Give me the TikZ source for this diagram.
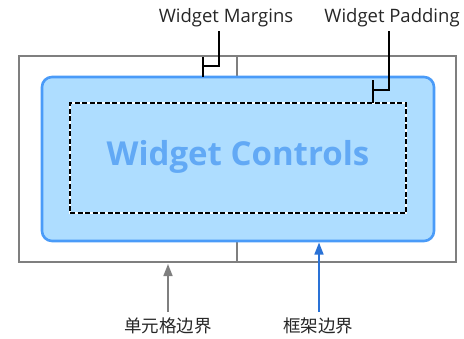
\documentclass[tikz,border=0pt]{standalone}
\usepackage{fontspec}
\setmainfont{Open Sans}
\newfontfamily\cjk{Noto Sans CJK SC}
\usetikzlibrary{arrows.meta}
\definecolor{cellgray}{HTML}{7F7F7F}
\definecolor{frameblue}{HTML}{4A9BF8}
\definecolor{framefill}{HTML}{AEDDFF}
\definecolor{ctltext}{HTML}{62A9F5}
\definecolor{arrowblue}{HTML}{2A72D6}
\tikzset{
  cellbox/.style={draw=cellgray, line width=2pt},
  framebox/.style={draw=frameblue, fill=framefill, line width=2.6pt, rounded corners=10pt},
  padbox/.style={draw=black, line width=1.3pt, dash pattern=on 5pt off 2.5pt},
  lbl/.style={font=\fontsize{18.5}{20}\selectfont, text=black!85, inner sep=0pt},
  cjklbl/.style={font=\cjk\fontsize{17.5}{19}\selectfont, text=black!85, inner sep=0pt},
  bracket/.style={draw=black, line width=2.4pt},
  cellarrow/.style={draw=cellgray, line width=1.6pt, -{Triangle[length=12pt,width=9pt]}},
  framearrow/.style={draw=arrowblue, line width=1.6pt, -{Triangle[length=12pt,width=9pt]}},
}
\begin{document}
\begin{tikzpicture}[x=1pt,y=-1pt]
\useasboundingbox (0,0) rectangle (464,338);
% outer cell borders
\node[cellbox, minimum width=437pt, minimum height=206pt, inner sep=0pt] (cell) at (237.5,159) {};
\coordinate (divtop) at (237,56);
\coordinate (divbot) at (237,262);
\draw[cellgray, line width=2pt] (divtop) -- (divbot);
% frame
\node[framebox, minimum width=392pt, minimum height=164pt, inner sep=0pt] (frame) at (238,159) {};
% padding dashed
\draw[white, line width=2.8pt] (70,103) rectangle (406,213);
\node[padbox, minimum width=336pt, minimum height=110pt, inner sep=0pt] (pad) at (238,158) {};
\node[font=\bfseries\fontsize{33}{36}\selectfont, text=ctltext] (ctl) at (238,157) {Widget Controls};
% labels
\node[lbl] (margins) at (226,18) {Widget Margins};
\node[lbl] (padding) at (392,18) {Widget Padding};
% margin bracket
\coordinate (mtop) at (219,31);
\coordinate (mcorner) at (219,66);
\coordinate (mleft) at (203,66);
\coordinate (mt1) at (203,57);
\coordinate (mt2) at (203,77);
\draw[bracket] (mtop) -- (mcorner) -- (mleft);
\draw[bracket] (mt1) -- (mt2);
% padding bracket
\coordinate (ptop) at (389,31);
\coordinate (pcorner) at (389,90);
\coordinate (pleft) at (373,90);
\coordinate (pt1) at (373,80);
\coordinate (pt2) at (373,103);
\draw[bracket] (ptop) -- (pcorner) -- (pleft);
\draw[bracket] (pt1) -- (pt2);
% bottom labels and arrows
\node[cjklbl] (celllbl) at (168,326) {单元格边界};
\node[cjklbl] (framelbl) at (318,326) {框架边界};
\coordinate (cellpt) at (168,264);
\coordinate (framept) at (319,242.5);
\draw[cellarrow] (168,312) -- (cellpt);
\draw[framearrow] (319,312) -- (framept);
\end{tikzpicture}
\end{document}
